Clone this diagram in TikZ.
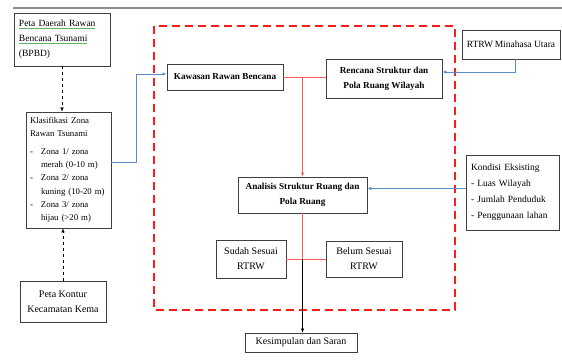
\documentclass[tikz,border=0pt]{standalone}
\usepackage{fontspec}
\setmainfont{Liberation Serif}
\usetikzlibrary{arrows.meta}
\definecolor{boxline}{HTML}{3F3F3F}
\definecolor{zonered}{HTML}{FF1A1A}
\definecolor{linkred}{HTML}{FF5A5A}
\definecolor{linkblue}{HTML}{5B8BC9}
\definecolor{squig}{HTML}{5FB85F}
\definecolor{pagerule}{HTML}{8C8C8C}
\newcommand{\squig}[1]{{\color{squig}\underline{\color{black}#1}}}

\begin{document}
\begin{tikzpicture}[x=1pt, y=-1pt,
  box/.style={draw=boxline, line width=0.9pt, inner sep=3pt,
    font=\fontsize{10}{15}\selectfont, align=center},
  leftbox/.style={box, inner xsep=5pt, align=left},
  boldbox/.style={box, font=\fontsize{9.2}{15}\selectfont\bfseries},
  redlink/.style={linkred, line width=0.8pt},
  bluelink/.style={linkblue, line width=0.8pt},
  tip/.style={-{Latex[length=4pt,width=3.5pt]}}]
  \useasboundingbox (0,0) rectangle (562,363);
  \draw[pagerule, line width=1.2pt] (13,8) -- (562,8);

  % study area frame
  \draw[zonered, line width=2.2pt, dash pattern=on 8pt off 5pt]
    (154,26) rectangle (455,310);

  % left column
  \node[leftbox, text width=86pt, minimum height=53pt,
    font=\fontsize{9.5}{15}\selectfont] (bpbd) at (62,39.5)
    {\squig{Peta Daerah Rawan}\\\squig{Bencana Tsunami}\\(BPBD)};
  \node[leftbox, inner xsep=4pt, text width=77pt, minimum height=116pt,
    font=\fontsize{8.8}{13.3}\selectfont] (klas) at (68.5,170)
    {Klasifikasi Zona\\Rawan Tsunami\\[4pt]
     \makebox[11pt][l]{-}Zona 1/ zona\\\hspace*{11pt}\mbox{merah (0-10 m)}\\
     \makebox[11pt][l]{-}Zona 2/ zona\\\hspace*{11pt}\mbox{kuning (10-20 m)}\\
     \makebox[11pt][l]{-}Zona 3/ zona\\\hspace*{11pt}\mbox{hijau (>20 m)}};
  \node[box, minimum width=86pt, minimum height=41pt] (kontur) at (63,301.5)
    {Peta Kontur\\Kecamatan Kema};

  % inside the frame
  \node[boldbox, minimum width=116pt, minimum height=26pt] (kawasan) at (225,77)
    {Kawasan Rawan Bencana};
  \node[boldbox, minimum width=116pt, minimum height=39pt] (rencana) at (384,78.5)
    {Rencana Struktur dan\\Pola Ruang Wilayah};
  \node[boldbox, minimum width=129pt, minimum height=36pt] (analisis) at (302.5,195)
    {Analisis Struktur Ruang dan\\Pola Ruang};
  \node[box, minimum width=70pt, minimum height=38pt] (sudah) at (251,259)
    {Sudah Sesuai\\RTRW};
  \node[box, minimum width=76pt, minimum height=36pt] (belum) at (364,259)
    {Belum Sesuai\\RTRW};
  \node[box, minimum width=112pt, minimum height=19pt] (kesimpulan) at (301,342.5)
    {Kesimpulan dan Saran};

  % right column
  \node[box, minimum width=98pt, minimum height=29pt,
    font=\fontsize{9.5}{15}\selectfont] (rtrw) at (511,44.5)
    {RTRW\,Minahasa Utara};
  \node[leftbox, text width=83pt, minimum height=75pt,
    font=\fontsize{9.5}{16}\selectfont] (kondisi) at (512.5,192.5)
    {Kondisi Eksisting\\- Luas Wilayah\\- Jumlah Penduduk\\- Penggunaan lahan};

  % connectors
  \draw[dashed, tip] (bpbd.south) -- (bpbd.south |- klas.north);
  \draw[dashed, tip] (kontur.north) -- (kontur.north |- klas.south);
  \draw[bluelink, tip] ([yshift=8pt]klas.east) -- ++(25,0) |- ([yshift=3pt]kawasan.west);
  \draw[bluelink, tip] ([xshift=4pt]rtrw.south) |- ([yshift=6.5pt]rencana.east);
  \draw[bluelink, tip] ([yshift=4pt]kondisi.west) -- ([yshift=4pt]kondisi.west -| analisis.east);

  \coordinate (jtop) at (kawasan.east -| analisis.north);
  \coordinate (jbot) at (analisis.south |- sudah.east);
  \draw[redlink] (kawasan.east) -- (kawasan.east -| rencana.west);
  \draw[redlink, tip] (jtop) -- (analisis.north);
  \draw[redlink] (analisis.south) -- (jbot);
  \draw[redlink] (sudah.east) -- (belum.west);
  \draw[tip] (jbot) -- (jbot |- kesimpulan.north);
\end{tikzpicture}
\end{document}
